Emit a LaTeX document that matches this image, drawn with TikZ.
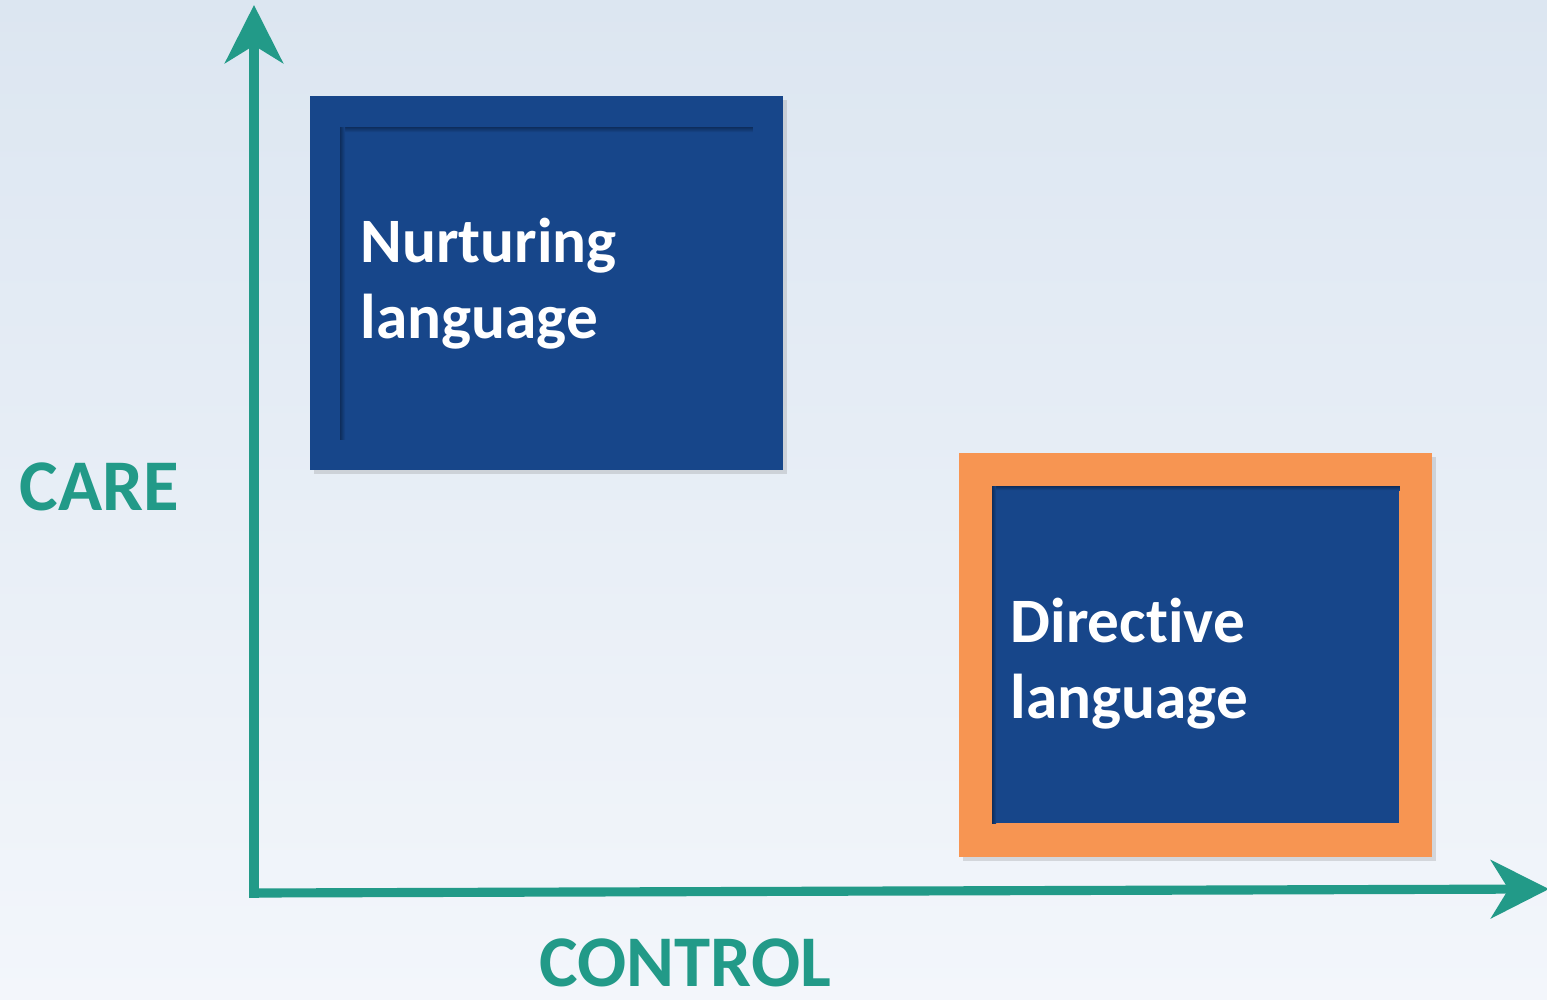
\documentclass[tikz,border=0pt]{standalone}
\usepackage{fontspec}
\setmainfont{Carlito}[Ligatures=NoCommon]
\usetikzlibrary{shadows,arrows.meta}

\definecolor{axisteal}{HTML}{229A88}
\definecolor{boxblue}{HTML}{17468A}
\definecolor{boxdark}{HTML}{0E2E5E}
\definecolor{boxorange}{HTML}{F79552}
\definecolor{bgtop}{HTML}{DCE6F1}
\definecolor{bgbottom}{HTML}{F3F6FB}

\tikzset{
  axis/.style={draw=axisteal, line width=2.6pt, line cap=rect,
    -{Stealth[length=16.5pt, width=16.5pt, inset=5pt]}},
  outerbox/.style={draw=none, inner sep=0pt, minimum width=4.73cm,
    drop shadow={shadow xshift=0.04cm, shadow yshift=-0.04cm, opacity=0.25}},
  innerbox/.style={fill=boxblue, draw=none, inner sep=0pt},
  boxtext/.style={text=white, inner sep=0pt, align=left,
    font=\fontsize{18}{21.6}\selectfont\bfseries},
  axislabel/.style={text=axisteal, inner sep=0pt,
    font=\fontsize{20.7}{24}\selectfont\bfseries}
}

\begin{document}
\begin{tikzpicture}[x=0.01cm, y=-0.01cm]
	\useasboundingbox (0,0) rectangle (1547,999);
	\shade[top color=bgtop, bottom color=bgbottom] (0,0) rectangle (1547,999);
	
	% boxes
	\node[outerbox, fill=boxblue, minimum height=3.74cm] (nurt) at (546.5,283) {};
	\node[innerbox, minimum width=4.11cm, minimum height=3.11cm] (nurtin) at (546.5,283.5) {};
	\shade[top color=boxdark, bottom color=boxblue] (nurtin.north west) rectangle ([yshift=-0.05cm]nurtin.north east);
	\shade[left color=boxdark, right color=boxblue] (nurtin.north west) rectangle ([xshift=0.05cm]nurtin.south west);
	
	\node[outerbox, fill=boxorange, minimum height=4.04cm] (dir) at (1195.5,655) {};
	\node[innerbox, minimum width=4.06cm, minimum height=3.36cm] (dirin) at (1196,655) {};
	\shade[top color=boxdark, bottom color=boxblue] (dirin.north west) rectangle ([yshift=-0.04cm]dirin.north east);
	\shade[left color=boxdark, right color=boxblue] (dirin.north west) rectangle ([xshift=0.04cm]dirin.south west);
	
	\node[boxtext, anchor=base west] (nurtxt) at (360,338) {Nurturing\\language};
	\node[boxtext, anchor=base west] (dirtxt) at (1010,718) {Directive\\language};
	
	% axes
	\coordinate (origin) at (254,893);
	\coordinate (ytip) at (254,5);
	\coordinate (xtip) at (1549,889);
	\draw[axis] (origin) -- (ytip);
	\draw[axis] (origin) -- (xtip);
	
	\node[axislabel, anchor=base west] (care) at (19,510) {CARE};
	\node[axislabel, anchor=base west] (control) at (539,986) {CONTROL};
\end{tikzpicture}
\end{document}
